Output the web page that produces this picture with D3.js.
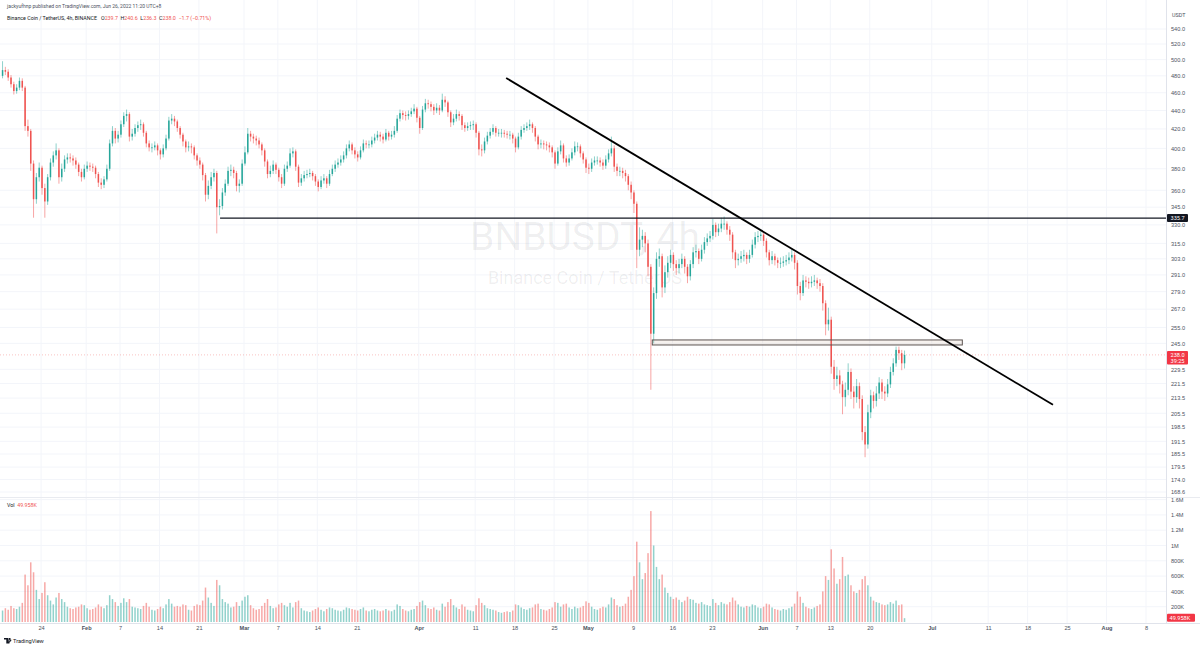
<!DOCTYPE html>
<html>
<head>
<meta charset="utf-8">
<script src="https://cdnjs.cloudflare.com/ajax/libs/d3/7.8.5/d3.min.js"></script>
<style>
  body { margin: 0; background: #fff; }
  svg { display: block; font-family: Roboto, "Noto Sans", sans-serif; }
  .axis path.domain { display: none; }
  .axis text { fill: #4c525e; }
</style>
</head>
<body>
<svg id="chart" width="1200" height="648"></svg>
<script>
var startTime = Date.UTC(2022, 0, 17);
var barStep = 12 * 3600 * 1000;
var firstOpen = 480;

var closes = [
  487,485,478,470,462,466,474,466,423,418,
  385,352,372,381,362,350,372,386,393,398,
  372,380,389,391,390,388,384,377,372,380,
  383,382,381,375,367,365,370,380,405,418,
  410,414,425,434,436,412,415,421,424,425,
  416,405,401,401,403,398,394,400,410,429,
  431,428,421,414,407,401,402,401,393,388,
  384,374,356,364,372,376,345,346,358,366,
  378,379,376,364,366,385,396,415,412,410,
  408,404,398,387,375,378,384,379,372,366,
  380,383,395,397,382,367,371,374,375,376,
  373,368,363,369,371,366,375,380,384,386,
  389,393,400,404,398,394,391,398,405,404,
  404,408,411,414,412,409,416,412,414,418,
  431,437,435,434,436,439,442,432,421,441,
  448,447,444,440,443,440,452,449,438,427,
  431,436,434,424,421,423,424,425,416,399,
  398,407,413,417,421,416,416,416,415,414,
  414,410,401,412,419,421,423,425,421,412,
  404,405,404,403,401,396,385,397,403,390,
  386,390,396,402,402,395,389,381,380,386,
  388,388,386,383,389,395,400,382,378,378,
  376,373,365,358,348,310,318,321,315,297,
  251,278,303,305,282,293,300,306,299,296,
  299,303,297,290,299,308,309,303,310,316,
  319,321,330,324,327,331,331,326,322,308,
  302,303,305,306,303,306,314,320,321,322,
  317,308,302,305,302,300,300,301,302,304,
  306,300,283,278,287,286,285,286,287,285,
  283,271,257,260,231,224,226,221,214,218,
  228,217,214,220,213,196,190,206,215,212,
  216,222,217,216,221,228,233,241,239,233,238
];

var highs = [
  498,491,488,481,473,470,478,477,468,430,
  420,388,376,386,383,366,375,390,397,405,
  400,385,393,395,395,393,391,386,380,384,
  387,386,385,383,377,371,373,384,409,423,
  421,418,429,438,441,438,420,425,428,430,
  427,418,408,405,407,405,400,404,414,433,
  436,434,430,423,416,409,407,405,403,395,
  391,386,376,369,377,380,378,352,362,370,
  382,384,382,378,370,389,402,421,418,415,
  413,411,406,400,389,383,388,386,381,375,
  384,387,400,401,399,384,375,378,379,380,
  378,375,370,373,375,373,379,384,388,390,
  393,397,404,408,406,401,397,402,409,408,
  408,412,415,418,417,415,420,418,418,423,
  435,441,440,439,440,443,447,444,434,445,
  453,452,450,447,448,446,459,456,451,440,
  436,441,439,436,427,427,428,429,427,418,
  404,411,417,421,425,423,420,420,419,418,
  418,416,412,416,423,425,427,430,427,423,
  414,409,408,407,406,403,398,401,408,405,
  393,394,400,407,406,404,397,391,385,390,
  392,392,391,389,393,399,412,403,385,382,
  381,379,375,368,360,350,328,326,324,318,
  299,282,308,311,307,298,305,310,308,302,
  303,307,305,299,302,312,314,311,314,320,
  323,325,335,332,331,336,337,333,329,324,
  310,307,309,310,308,310,318,324,325,326,
  324,319,310,309,307,304,304,305,306,308,
  311,308,302,286,291,290,289,290,291,289,
  288,285,273,268,262,235,231,229,223,222,
  233,230,220,224,222,215,199,210,218,217,
  220,225,224,220,224,231,236,243,243,241,240.6
];

var lows = [
  477,481,474,466,458,459,463,462,418,412,
  378,336,348,368,356,336,347,369,382,389,
  366,368,377,385,386,383,380,373,368,370,
  377,378,377,371,363,361,362,368,378,402,
  405,406,411,422,428,407,408,412,417,419,
  412,401,397,396,398,393,389,391,398,408,
  425,423,417,410,402,396,397,395,389,383,
  380,369,350,352,361,368,323,338,343,355,
  364,373,371,359,358,364,383,394,407,405,
  403,400,393,382,371,372,375,375,368,362,
  364,377,381,391,378,363,364,368,371,372,
  369,364,359,361,366,362,364,373,377,381,
  383,386,390,397,394,390,387,389,396,400,
  400,401,405,408,407,405,407,408,409,411,
  416,428,430,429,430,433,436,427,415,419,
  438,442,439,435,437,435,438,444,433,422,
  424,428,429,419,417,418,419,419,411,393,
  392,395,404,410,414,412,412,411,411,410,
  409,405,396,399,409,416,418,419,416,407,
  399,400,399,398,396,391,380,383,394,386,
  382,383,388,393,397,391,385,376,375,377,
  383,384,382,379,380,386,392,377,373,373,
  371,368,360,352,340,296,305,312,308,290,
  218,245,274,297,275,278,289,296,294,291,
  292,296,292,285,287,296,304,299,301,307,
  313,316,318,320,321,324,326,322,317,303,
  296,298,300,301,299,300,304,311,316,317,
  313,304,298,299,298,296,296,297,298,299,
  301,295,277,273,276,282,281,282,283,281,
  279,266,250,253,227,218,220,216,205,209,
  215,213,208,211,208,192,184,188,203,208,
  209,213,213,212,214,219,226,231,235,229,230
];

// volume in thousands
var volumes = [
  150,180,160,210,180,170,200,250,620,480,
  780,650,420,300,380,520,350,280,230,320,
  380,300,260,200,180,170,190,200,230,220,
  180,160,170,190,230,200,180,220,350,300,
  260,210,250,310,260,300,200,190,180,170,
  210,250,200,160,150,170,200,180,230,300,
  240,200,210,200,230,220,160,150,210,230,
  220,280,450,320,250,210,550,480,300,260,
  240,190,200,260,210,280,330,350,220,180,
  160,170,210,250,300,210,180,190,230,250,
  220,200,250,190,260,280,180,150,140,130,
  150,170,190,160,140,170,190,180,160,150,
  140,160,190,180,170,160,150,170,190,150,
  140,160,170,150,140,150,170,150,140,160,
  230,210,170,150,140,160,170,210,260,280,
  220,180,170,190,160,150,240,200,260,300,
  220,190,170,230,200,160,150,140,220,310,
  250,220,180,170,160,150,130,120,130,140,
  130,150,230,220,190,170,160,180,190,230,
  240,170,160,150,170,190,260,250,200,230,
  240,190,170,200,180,190,210,270,250,200,
  170,160,180,200,190,230,320,300,220,200,
  210,240,330,420,600,1050,780,560,640,900,
  1450,1000,720,560,620,450,380,330,300,320,
  290,260,280,330,300,290,250,240,260,230,
  220,210,300,250,220,260,240,230,260,320,
  280,230,200,190,210,200,230,220,190,180,
  200,240,230,190,170,160,150,170,160,180,
  200,240,400,330,250,200,180,170,190,210,
  230,400,600,550,950,700,500,560,850,600,
  620,480,400,380,420,560,600,480,330,280,
  260,250,230,220,230,260,240,280,220,230,50
];

var priceTicks = [540, 520, 500, 480, 460, 440, 420, 400, 380, 360, 345, 330, 315, 303,
  291, 279, 267, 255, 245, 229.5, 221.5, 213.5, 205.5, 198.5, 191.5, 185.5, 179.5, 174, 168.6];
var volTicks = [200, 400, 600, 800, 1000, 1200, 1400, 1600];
var volTickLabels = ['200K', '400K', '600K', '800K', '1M', '1.2M', '1.4M', '1.6M'];
var timeTickDates = ['2022-01-24', '2022-02-01', '2022-02-07', '2022-02-14', '2022-02-21',
  '2022-03-01', '2022-03-07', '2022-03-14', '2022-03-21', '2022-04-01', '2022-04-11',
  '2022-04-18', '2022-04-25', '2022-05-01', '2022-05-09', '2022-05-16', '2022-05-23',
  '2022-06-01', '2022-06-07', '2022-06-13', '2022-06-20', '2022-07-01', '2022-07-11',
  '2022-07-18', '2022-07-25', '2022-08-01', '2022-08-08'];
var timeTickLabels = ['24', 'Feb', '7', '14', '21', 'Mar', '7', '14', '21', 'Apr', '11',
  '18', '25', 'May', '9', '16', '23', 'Jun', '7', '13', '20', 'Jul', '11', '18', '25', 'Aug', '8'];

// drawings on the chart
var supportLevel = { from: '2022-02-24T18:00Z', price: 335.7 };
var trendLine = [['2022-04-16T12:00Z', 477.4], ['2022-07-22T12:00Z', 209.9]];
var zoneBox = { from: '2022-05-12T10:00Z', to: '2022-07-06T10:00Z', top: 247.1, bottom: 244.0 };
var lastPrice = 238.0;
var lastVolume = 49.958;

var upColor = '#26a69a', downColor = '#ef5350';
var plotRight = 1166, priceBottom = 497, volBottom = 623;
var nbsp = '\u00a0';

var svg = d3.select('#chart');

var x = d3.scaleUtc()
  .domain([new Date('2022-02-07'), new Date('2022-08-08')])
  .range([120, 1146]);
var y = d3.scaleLog()
  .domain([168.6, 540])
  .range([492, 29]);
var vy = d3.scaleLinear()
  .domain([0, 1600])
  .range([622, 499.6]);

var candles = closes.map(function(c, i) {
  return {
    t: new Date(startTime + i * barStep + 4 * 3600 * 1000),
    o: i === 0 ? firstOpen : closes[i - 1],
    h: highs[i],
    l: lows[i],
    c: c,
    v: volumes[i]
  };
});

var defs = svg.append('defs');
defs.append('clipPath').attr('id', 'clipPrice')
  .append('rect').attr('x', 0).attr('y', 0).attr('width', plotRight).attr('height', priceBottom);
defs.append('clipPath').attr('id', 'clipVol')
  .append('rect').attr('x', 0).attr('y', priceBottom).attr('width', plotRight).attr('height', volBottom - priceBottom);

// grid
var grid = svg.append('g');
grid.selectAll('.vgrid')
  .data(timeTickDates)
  .enter().append('line')
    .attr('x1', d => x(new Date(d))).attr('x2', d => x(new Date(d)))
    .attr('y1', 0).attr('y2', volBottom)
    .attr('stroke', '#f3f5fa').attr('stroke-width', 1);
grid.selectAll('.hgrid')
  .data(priceTicks)
  .enter().append('line')
    .attr('x1', 0).attr('x2', plotRight)
    .attr('y1', d => y(d)).attr('y2', d => y(d))
    .attr('stroke', '#f3f5fa').attr('stroke-width', 1);
grid.selectAll('.vhgrid')
  .data(volTicks)
  .enter().append('line')
    .attr('x1', 0).attr('x2', plotRight)
    .attr('y1', d => vy(d)).attr('y2', d => vy(d))
    .attr('stroke', '#f3f5fa').attr('stroke-width', 1);

// pane borders
svg.append('line').attr('x1', 0).attr('x2', 1200).attr('y1', priceBottom + 0.5).attr('y2', priceBottom + 0.5)
  .attr('stroke', '#e9ebf0');
svg.append('line').attr('x1', 0).attr('x2', 1200).attr('y1', volBottom + 0.5).attr('y2', volBottom + 0.5)
  .attr('stroke', '#e0e3eb');
svg.append('line').attr('x1', plotRight + 0.5).attr('x2', plotRight + 0.5).attr('y1', 0).attr('y2', volBottom)
  .attr('stroke', '#e0e3eb');

// watermark
svg.append('text')
  .attr('x', 585).attr('y', 250)
  .attr('text-anchor', 'middle')
  .style('font-size', '39px')
  .attr('fill', '#131722').attr('fill-opacity', 0.07)
  .text('BNBUSDT, 4h');
svg.append('text')
  .attr('x', 585).attr('y', 284)
  .attr('text-anchor', 'middle')
  .style('font-size', '18px')
  .attr('fill', '#131722').attr('fill-opacity', 0.07)
  .text('Binance Coin / TetherUS');

var barW = 1.5;

// volume
svg.append('g').attr('clip-path', 'url(#clipVol)')
  .selectAll('rect')
  .data(candles)
  .enter().append('rect')
    .attr('x', d => x(d.t) - barW / 2)
    .attr('y', d => vy(d.v))
    .attr('width', barW)
    .attr('height', d => vy(0) - vy(d.v))
    .attr('fill', d => d.c >= d.o ? upColor : downColor)
    .attr('fill-opacity', 0.5);

// last price line
svg.append('line')
  .attr('x1', 0).attr('x2', plotRight)
  .attr('y1', y(lastPrice)).attr('y2', y(lastPrice))
  .attr('stroke', downColor).attr('stroke-opacity', 0.35)
  .attr('stroke-dasharray', '1,2');

// candles
var candleG = svg.append('g').attr('clip-path', 'url(#clipPrice)');
candleG.selectAll('.wick')
  .data(candles)
  .enter().append('line')
    .attr('x1', d => x(d.t)).attr('x2', d => x(d.t))
    .attr('y1', d => y(d.h)).attr('y2', d => y(d.l))
    .attr('stroke', d => d.c >= d.o ? upColor : downColor)
    .attr('stroke-opacity', 0.75)
    .attr('stroke-width', 0.7);
candleG.selectAll('.body')
  .data(candles)
  .enter().append('rect')
    .attr('x', d => x(d.t) - barW / 2)
    .attr('y', d => y(Math.max(d.o, d.c)))
    .attr('width', barW)
    .attr('height', d => Math.max(0.8, Math.abs(y(d.o) - y(d.c))))
    .attr('fill', d => d.c >= d.o ? upColor : downColor);

// drawings
var drawG = svg.append('g').attr('clip-path', 'url(#clipPrice)');
drawG.append('rect')
  .attr('x', x(new Date(zoneBox.from)))
  .attr('y', y(zoneBox.top))
  .attr('width', x(new Date(zoneBox.to)) - x(new Date(zoneBox.from)))
  .attr('height', y(zoneBox.bottom) - y(zoneBox.top))
  .attr('fill', '#c8aa8c').attr('fill-opacity', 0.15)
  .attr('stroke', '#5b5350').attr('stroke-width', 1);
drawG.append('line')
  .attr('x1', x(new Date(supportLevel.from))).attr('x2', plotRight)
  .attr('y1', y(supportLevel.price)).attr('y2', y(supportLevel.price))
  .attr('stroke', '#131722').attr('stroke-width', 1.2);
drawG.append('line')
  .attr('x1', x(new Date(trendLine[0][0]))).attr('y1', y(trendLine[0][1]))
  .attr('x2', x(new Date(trendLine[1][0]))).attr('y2', y(trendLine[1][1]))
  .attr('stroke', '#000').attr('stroke-width', 1.8);

// axes
var priceAxis = svg.append('g')
  .attr('class', 'axis')
  .attr('transform', 'translate(' + (plotRight + 3) + ',0)')
  .call(d3.axisRight(y).tickValues(priceTicks).tickSize(0).tickPadding(2).tickFormat(d3.format('.1f')));
priceAxis.selectAll('text').style('font-size', '5.6px');

var timeAxis = svg.append('g')
  .attr('class', 'axis')
  .attr('transform', 'translate(0,' + volBottom + ')')
  .call(d3.axisBottom(x).tickValues(timeTickDates.map(d => new Date(d))).tickSize(0).tickPadding(3)
    .tickFormat((d, i) => timeTickLabels[i]));
timeAxis.selectAll('text')
  .style('font-size', '5.6px')
  .style('font-weight', (d, i) => isNaN(+timeTickLabels[i]) ? 'bold' : 'normal')
  .attr('fill', (d, i) => isNaN(+timeTickLabels[i]) ? '#131722' : '#4c525e');

svg.append('text')
  .attr('x', 1172).attr('y', 17)
  .style('font-size', '5.4px').attr('fill', '#4c525e')
  .text('USDT');

// price labels on the axis
function axisLabel(yPos, h, fill, lines) {
  svg.append('rect')
    .attr('x', plotRight + 1).attr('y', yPos - 4)
    .attr('width', 21).attr('height', h)
    .attr('rx', 1)
    .attr('fill', fill);
  lines.forEach(function(t, i) {
    svg.append('text')
      .attr('x', plotRight + 4.5).attr('y', yPos + 2 + i * 6)
      .style('font-size', '5.6px').attr('fill', '#fff')
      .text(t);
  });
}
axisLabel(y(supportLevel.price), 8, '#131722', [d3.format('.1f')(supportLevel.price)]);
axisLabel(y(lastPrice), 13.5, '#f23645', [d3.format('.1f')(lastPrice), '39:25']);

// last volume label
svg.append('rect')
  .attr('x', plotRight + 1).attr('y', vy(lastVolume) - 4.5)
  .attr('width', 28).attr('height', 8).attr('rx', 1)
  .attr('fill', '#f23645');
svg.append('text')
  .attr('x', plotRight + 3.5).attr('y', vy(lastVolume) + 1.5)
  .style('font-size', '5.6px').attr('fill', '#fff')
  .text(d3.format('.3f')(lastVolume) + 'K');

// volume scale, drawn last
var volAxis = svg.append('g')
  .attr('class', 'axis')
  .attr('transform', 'translate(' + (plotRight + 3) + ',0)')
  .call(d3.axisRight(vy).tickValues(volTicks).tickSize(0).tickPadding(2)
    .tickFormat(function(d) { return volTickLabels[volTicks.indexOf(d)]; }));
volAxis.selectAll('text')
  .attr('font-size', 5.6)
  .style('font-size', '5.6px');

// header
svg.append('text')
  .attr('x', 7).attr('y', 8)
  .style('font-size', '5px').attr('fill', '#4c525e')
  .text('jackyufhnp published on TradingView.com, Jun 26, 2022 11:20 UTC+8');

var legend = svg.append('text')
  .attr('x', 7).attr('y', 19.5)
  .style('font-size', '5.3px').attr('fill', '#131722');
var legendParts = [
  ['Binance Coin / TetherUS, 4h, BINANCE' + nbsp + nbsp + nbsp, '#131722'],
  ['O', '#131722'], ['239.7', downColor],
  [nbsp + nbsp + 'H', '#131722'], ['240.6', downColor],
  [nbsp + nbsp + 'L', '#131722'], ['236.3', downColor],
  [nbsp + nbsp + 'C', '#131722'], ['238.0', downColor],
  [nbsp + nbsp + '\u22121.7 (\u22120.71%)', downColor]
];
legendParts.forEach(function(p) {
  legend.append('tspan').attr('fill', p[1]).text(p[0]);
});

svg.append('text')
  .attr('x', 7).attr('y', 507)
  .style('font-size', '5.3px').attr('fill', '#131722')
  .text('Vol' + nbsp + nbsp)
  .append('tspan').attr('fill', downColor).text(d3.format('.3f')(lastVolume) + 'K');

// TradingView logo
var logo = svg.append('g').attr('transform', 'translate(4,638)');
logo.append('path')
  .attr('d', 'M0,0 H4 V5.5 H2.3 V1.6 H0 Z M4.6,0 H6.6 L5.4,5.5 H3.9 Z M6.4,1.6 A0.9,0.9 0 1,0 6.41,1.6')
  .attr('fill', '#131722');
logo.append('text')
  .attr('x', 9).attr('y', 5)
  .style('font-size', '5.6px').attr('fill', '#131722')
  .text('TradingView');
</script>
</body>
</html>
